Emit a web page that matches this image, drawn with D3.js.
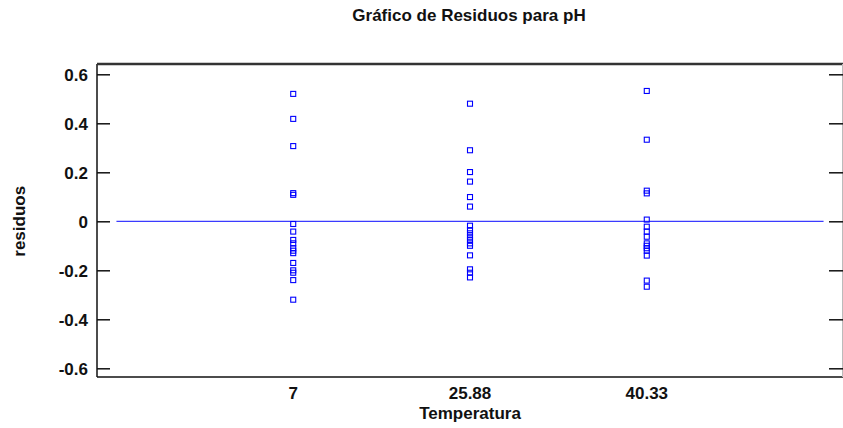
<!DOCTYPE html>
<html>
<head>
<meta charset="utf-8">
<script src="https://cdn.jsdelivr.net/npm/d3@7"></script>
<style>
  body { margin: 0; background: #fff; }
  svg text { font-family: "Liberation Sans", Arial, sans-serif; font-weight: bold; fill: #111; }
</style>
</head>
<body>
<svg id="svg" width="843" height="428"></svg>
<script>
// categories on the x axis
var temperaturas = ["7", "25.88", "40.33"];

// residuals per temperature level
var residuos7 = [0.52, 0.418, 0.307, 0.115, 0.108, -0.011, -0.042, -0.076, -0.09,
    -0.11, -0.12, -0.13, -0.17, -0.2, -0.21, -0.24, -0.32];
var residuos25 = [0.48, 0.29, 0.201, 0.162, 0.099, 0.06, -0.018, -0.036, -0.049,
    -0.063, -0.076, -0.09, -0.1, -0.139, -0.196, -0.21, -0.229];
var residuos40 = [0.532, 0.333, 0.125, 0.114, 0.007, -0.022, -0.042, -0.063, -0.09,
    -0.1, -0.11, -0.12, -0.14, -0.242, -0.267];

var yTicks = [0.6, 0.4, 0.2, 0, -0.2, -0.4, -0.6];
var yTickLabels = ["0.6", "0.4", "0.2", "0", "-0.2", "-0.4", "-0.6"];

var series = [residuos7, residuos25, residuos40];

(function() {
    /* layout */
    var plotLeft = 97, plotRight = 843, plotTop = 64, plotBottom = 377;
    var fontSize = "17px";
    var svg = d3.select("#svg");

    var x = d3.scaleLinear().domain([-1.11, 3.11]).range([plotLeft, plotRight]);
    var y = d3.scaleLinear().domain([0.6, -0.6]).range([74.3, 368.3]);

    // title
    svg.append("text")
        .attr("x", 469).attr("y", 21)
        .attr("text-anchor", "middle")
        .style("font-size", fontSize)
        .text("Gráfico de Residuos para pH");

    // frame
    svg.append("line").attr("x1", plotLeft).attr("x2", plotLeft).attr("y1", plotTop).attr("y2", plotBottom)
        .attr("stroke", "#111").attr("stroke-width", 1.5);
    svg.append("line").attr("x1", plotLeft).attr("x2", plotRight).attr("y1", plotBottom).attr("y2", plotBottom)
        .attr("stroke", "#111").attr("stroke-width", 1.5);
    svg.append("line").attr("x1", plotLeft).attr("x2", plotRight).attr("y1", plotTop).attr("y2", plotTop)
        .attr("stroke", "#333").attr("stroke-width", 2.5);
    svg.append("line").attr("x1", plotRight - 0.5).attr("x2", plotRight - 0.5).attr("y1", plotTop).attr("y2", plotBottom)
        .attr("stroke", "#bbb").attr("stroke-width", 1);

    // y axis ticks on both sides
    var yAxisL = d3.axisLeft(y).tickValues(yTicks).tickSize(-13)
        .tickFormat(function(d, i) { return yTickLabels[i]; });
    var gl = svg.append("g").attr("transform", "translate(" + plotLeft + ",0)").call(yAxisL);
    gl.select(".domain").remove();
    gl.selectAll(".tick line").attr("stroke", "#111").attr("stroke-width", 1.5);
    gl.selectAll(".tick text").attr("x", -9).attr("dy", "0.35em")
        .style("font-size", fontSize).attr("fill", "#111");

    var yAxisR = d3.axisRight(y).tickValues(yTicks).tickSize(-14).tickFormat("");
    var gr = svg.append("g").attr("transform", "translate(" + plotRight + ",0)").call(yAxisR);
    gr.select(".domain").remove();
    gr.selectAll(".tick line").attr("stroke", "#111").attr("stroke-width", 1.5);

    // x labels
    svg.selectAll(".xlab").data(temperaturas).enter().append("text")
        .attr("class", "xlab")
        .attr("x", function(d, i) { return x(i); })
        .attr("y", 399)
        .attr("text-anchor", "middle")
        .style("font-size", fontSize)
        .text(function(d) { return d; });

    // axis titles
    svg.append("text")
        .attr("x", 470).attr("y", 419)
        .attr("text-anchor", "middle")
        .style("font-size", fontSize)
        .text("Temperatura");
    svg.append("text")
        .attr("transform", "translate(25," + y(0) + ") rotate(-90)")
        .attr("text-anchor", "middle")
        .style("font-size", fontSize)
        .text("residuos");

    // zero reference line
    svg.append("line")
        .attr("x1", x(-1)).attr("x2", x(3))
        .attr("y1", y(0)).attr("y2", y(0))
        .attr("stroke", "#3b3bff").attr("stroke-width", 1.2);

    // points
    series.forEach(function(vals, i) {
        svg.selectAll(".p" + i).data(vals).enter().append("rect")
            .attr("class", "p" + i)
            .attr("x", x(i) - 2.5)
            .attr("y", function(d) { return y(d) - 2.5; })
            .attr("width", 5).attr("height", 5)
            .attr("fill", "none")
            .attr("stroke", "#0000ff")
            .attr("stroke-width", 1.1);
    });
})();
</script>
</body>
</html>
